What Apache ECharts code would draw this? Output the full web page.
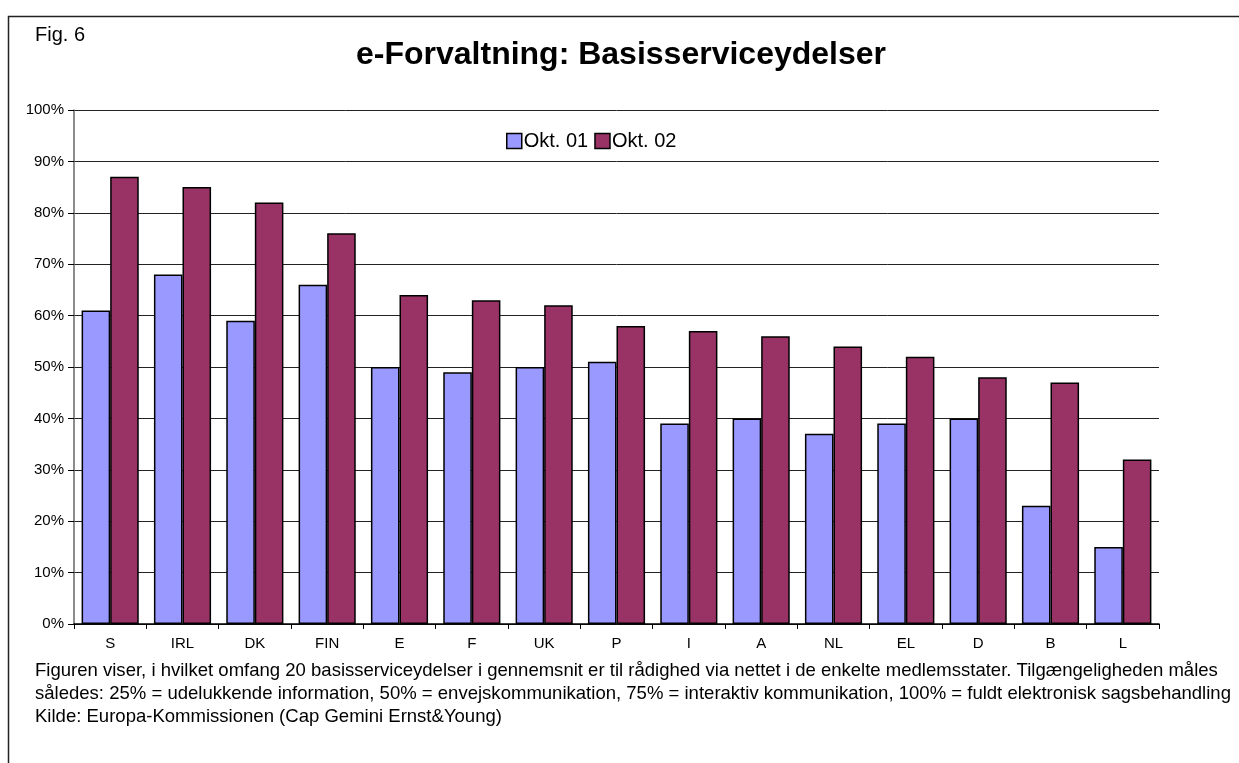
<!DOCTYPE html>
<html><head><meta charset="utf-8">
<script src="https://cdn.jsdelivr.net/npm/echarts@6/dist/echarts.min.js"></script>
<style>html,body{margin:0;padding:0;background:#fff}#c{width:1239px;height:763px}</style>
</head><body><div id="c"></div>
<script>
const categories = ['S','IRL','DK','FIN','E','F','UK','P','I','A','NL','EL','D','B','L'];
const okt01 = [61,68,59,66,50,49,50,51,39,40,37,39,40,23,15];
const okt02 = [87,85,82,76,64,63,62,58,57,56,54,52,48,47,32];
const seriesNames = ['Okt. 01','Okt. 02'];
const yTicks = [0,10,20,30,40,50,60,70,80,90,100];
const titleText = 'e-Forvaltning: Basisserviceydelser';
const figLabel = 'Fig. 6';
const footer = [
 'Figuren viser, i hvilket omfang 20 basisserviceydelser i gennemsnit er til rådighed via nettet i de enkelte medlemsstater. Tilgængeligheden måles',
 'således: 25% = udelukkende information, 50% = envejskommunikation, 75% = interaktiv kommunikation, 100% = fuldt elektronisk sagsbehandling',
 'Kilde: Europa-Kommissionen (Cap Gemini Ernst&Young)'
];
const chart = echarts.init(document.getElementById('c'));
const F = 'Liberation Sans, Arial, sans-serif';
const footerGraphics = footer.map((t,i)=>({type:'text',x:35,y:671+i*23,
  style:{text:t,font:'18.55px '+F,fill:'#000',verticalAlign:'middle'}}));
chart.setOption({
  animation:false,
  textStyle:{fontFamily:F},
  graphic:[
    {type:'rect',shape:{x:8.5,y:16.5,width:1240,height:760},style:{fill:'none',stroke:'#222',lineWidth:1.5}},
    {type:'text',x:35,y:35,style:{text:figLabel,font:'20px '+F,fill:'#000',verticalAlign:'middle'}},
    {type:'text',x:621,y:55,style:{text:titleText,font:'bold 32px '+F,fill:'#000',align:'center',verticalAlign:'middle'}}
  ].concat(footerGraphics),
  legend:{data:seriesNames,left:506,top:131,padding:0,itemWidth:15,itemHeight:15,itemGap:6,icon:'rect',
    textStyle:{fontSize:20,color:'#000',padding:[0,0,0,-3]},
    itemStyle:{borderColor:'#000',borderWidth:1.5}},
  grid:{left:74,right:80,top:110,bottom:139},
  xAxis:{type:'category',data:categories,
    axisLine:{lineStyle:{color:'#000',width:1.5}},
    axisTick:{show:true,length:5,lineStyle:{color:'#000'}},
    axisLabel:{color:'#000',fontSize:15,margin:12}},
  yAxis:{type:'value',min:0,max:100,interval:10,
    axisLine:{show:true,lineStyle:{color:'#666',width:1.5}},
    axisTick:{show:true,length:6,lineStyle:{color:'#000'}},
    axisLabel:{color:'#000',fontSize:15,margin:10,formatter:v=>yTicks.includes(v)?v+'%':''},
    splitLine:{lineStyle:{color:'#222',width:1}}},
  series:[
    {name:seriesNames[0],type:'bar',data:okt01,barGap:'0%',barCategoryGap:'21%',
      itemStyle:{color:'#9999FF',borderColor:'#000',borderWidth:1.5}},
    {name:seriesNames[1],type:'bar',data:okt02,
      itemStyle:{color:'#993366',borderColor:'#000',borderWidth:1.5}}
  ]
});
</script></body></html>
